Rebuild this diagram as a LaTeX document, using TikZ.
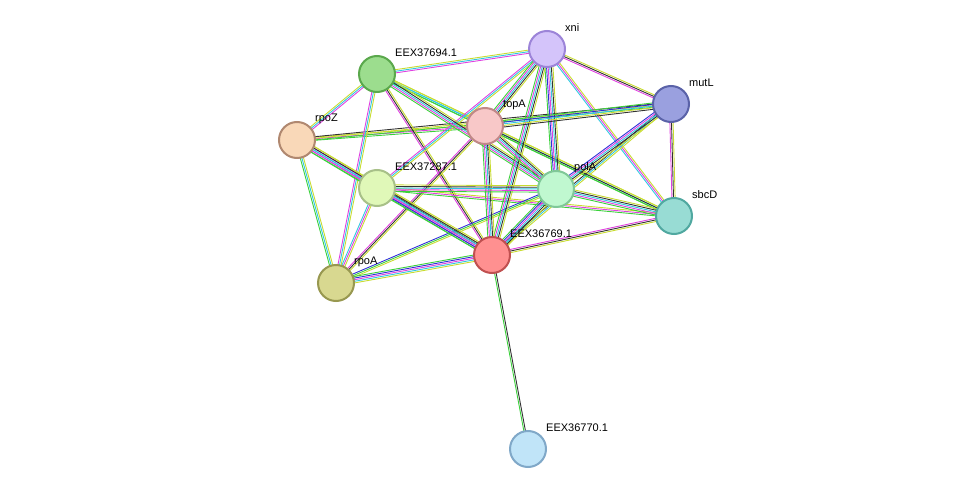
\documentclass[tikz,border=0pt]{standalone}
\usepackage{fontspec}
\setmainfont{Liberation Sans}
\usetikzlibrary{calc}
\definecolor{cnb}{HTML}{3BD13B}
\definecolor{cco}{HTML}{2F2FD8}
\definecolor{cex}{HTML}{E040E0}
\definecolor{cdb}{HTML}{30C8E0}
\definecolor{ctm}{HTML}{C8DC30}
\definecolor{cce}{HTML}{333333}
\tikzset{
  prot/.style={circle,minimum size=36pt,inner sep=0pt,line width=2pt},
  lbl/.style={anchor=west,font=\fontsize{11}{13}\selectfont,inner sep=0pt},
}
% edge drawn as parallel coloured strands
\newcommand{\stredge}[3]{%
  \foreach \c [count=\i] in {#3} {
    \pgfmathsetmacro{\o}{(\i-1)*1.6-0.8*(\stredgen-1)}
    \draw[\c,line width=0.9pt] ($(#1)!\o pt!90:(#2)$) -- ($(#2)!\o pt!-90:(#1)$);
  }}
\newcommand{\stredgen}{4}
\begin{document}
\begin{tikzpicture}[x=1pt,y=-1pt]
  \useasboundingbox (0,0) rectangle (975,495);
  \coordinate (xni) at (547,49);
  \coordinate (e694) at (377,74);
  \coordinate (mutL) at (671,104);
  \coordinate (topA) at (485,126);
  \coordinate (rpoZ) at (297,140);
  \coordinate (e287) at (377,188);
  \coordinate (polA) at (556,189);
  \coordinate (sbcD) at (674,216);
  \coordinate (e769) at (492,255);
  \coordinate (rpoA) at (336,283);
  \coordinate (e770) at (528,449);
  % edges
  \renewcommand{\stredgen}{3}
  \stredge{rpoZ}{e694}{cex,cdb,ctm}
  \stredge{rpoZ}{topA}{cnb,cex,ctm}
  \stredge{rpoZ}{mutL}{cnb,ctm,cce}
  \stredge{rpoZ}{rpoA}{cnb,cdb,ctm}
  \stredge{e694}{xni}{cex,cdb,ctm}
  \stredge{e694}{topA}{cnb,cdb,ctm}
  \stredge{e694}{sbcD}{cnb,cdb,ctm}
  \stredge{e694}{e769}{cex,cce,ctm}
  \stredge{e694}{rpoA}{cex,cdb,ctm}
  \stredge{xni}{mutL}{cex,cce,ctm}
  \stredge{xni}{sbcD}{cdb,cex,ctm}
  \stredge{xni}{e287}{cex,cdb,ctm}
  \stredge{mutL}{sbcD}{cex,cce,ctm}
  \stredge{mutL}{e769}{cce,cdb,ctm}
  \stredge{topA}{sbcD}{cnb,cce,ctm}
  \stredge{topA}{rpoA}{cex,cce,ctm}
  \stredge{e287}{sbcD}{cnb,cex,ctm}
  \stredge{e287}{rpoA}{cdb,cex,ctm}
  \stredge{polA}{rpoA}{cco,cnb,ctm}
  \stredge{sbcD}{e769}{cex,cce,ctm}
  \renewcommand{\stredgen}{5}
  \stredge{rpoZ}{e287}{cnb,cex,cdb,cex,ctm}
  \stredge{rpoZ}{e769}{cnb,cex,cdb,cce,ctm}
  \stredge{e694}{polA}{cnb,cex,cdb,cce,ctm}
  \stredge{xni}{topA}{cnb,cex,cdb,cce,ctm}
  \stredge{xni}{polA}{cnb,cco,cex,cdb,cce,ctm}
  \stredge{xni}{e769}{cnb,cex,cdb,cce,ctm}
  \stredge{mutL}{topA}{cnb,cco,cdb,ctm,cce}
  \stredge{mutL}{polA}{cco,cex,cdb,cce,ctm}
  \stredge{topA}{polA}{cnb,cex,cdb,cce,ctm}
  \stredge{topA}{e769}{cnb,cex,cdb,cce,ctm}
  \stredge{e287}{polA}{cnb,cex,cdb,cce,ctm}
  \stredge{e287}{e769}{cnb,cco,cex,cdb,cce,ctm}
  \stredge{polA}{sbcD}{cnb,cex,cdb,cce,ctm}
  \stredge{polA}{e769}{cnb,cco,cex,cdb,cce,ctm}
  \stredge{e769}{rpoA}{cnb,cco,cex,cdb,ctm}
  \renewcommand{\stredgen}{2}
  \stredge{e769}{e770}{cnb,cce}
  % proteins
  \node[prot,fill={rgb,255:red,212;green,196;blue,250},draw={rgb,255:red,156;green,132;blue,216}] (nxni) at (xni) {};
  \node[prot,fill={rgb,255:red,156;green,221;blue,142},draw={rgb,255:red,90;green,168;blue,76}] (ne694) at (e694) {};
  \node[prot,fill={rgb,255:red,154;green,160;blue,223},draw={rgb,255:red,90;green,98;blue,168}] (nmutL) at (mutL) {};
  \node[prot,fill={rgb,255:red,248;green,200;blue,200},draw={rgb,255:red,192;green,136;blue,136}] (ntopA) at (topA) {};
  \node[prot,fill={rgb,255:red,249;green,216;blue,184},draw={rgb,255:red,176;green,136;blue,112}] (nrpoZ) at (rpoZ) {};
  \node[prot,fill={rgb,255:red,224;green,248;blue,184},draw={rgb,255:red,168;green,192;blue,136}] (ne287) at (e287) {};
  \node[prot,fill={rgb,255:red,192;green,248;blue,208},draw={rgb,255:red,128;green,200;blue,152}] (npolA) at (polA) {};
  \node[prot,fill={rgb,255:red,152;green,220;blue,212},draw={rgb,255:red,80;green,168;blue,160}] (nsbcD) at (sbcD) {};
  \node[prot,fill={rgb,255:red,255;green,144;blue,144},draw={rgb,255:red,192;green,80;blue,80}] (ne769) at (e769) {};
  \node[prot,fill={rgb,255:red,216;green,216;blue,144},draw={rgb,255:red,152;green,152;blue,80}] (nrpoA) at (rpoA) {};
  \node[prot,fill={rgb,255:red,192;green,228;blue,248},draw={rgb,255:red,128;green,168;blue,200}] (ne770) at (e770) {};
  % labels
  \node[lbl] at ($(xni)+(18,-21)$) {xni};
  \node[lbl] at ($(e694)+(18,-21)$) {EEX37694.1};
  \node[lbl] at ($(mutL)+(18,-21)$) {mutL};
  \node[lbl] at ($(topA)+(18,-21)$) {topA};
  \node[lbl] at ($(rpoZ)+(18,-21)$) {rpoZ};
  \node[lbl] at ($(e287)+(18,-21)$) {EEX37287.1};
  \node[lbl] at ($(polA)+(18,-21)$) {polA};
  \node[lbl] at ($(sbcD)+(18,-21)$) {sbcD};
  \node[lbl] at ($(e769)+(18,-21)$) {EEX36769.1};
  \node[lbl] at ($(rpoA)+(18,-21)$) {rpoA};
  \node[lbl] at ($(e770)+(18,-21)$) {EEX36770.1};
\end{tikzpicture}
\end{document}
